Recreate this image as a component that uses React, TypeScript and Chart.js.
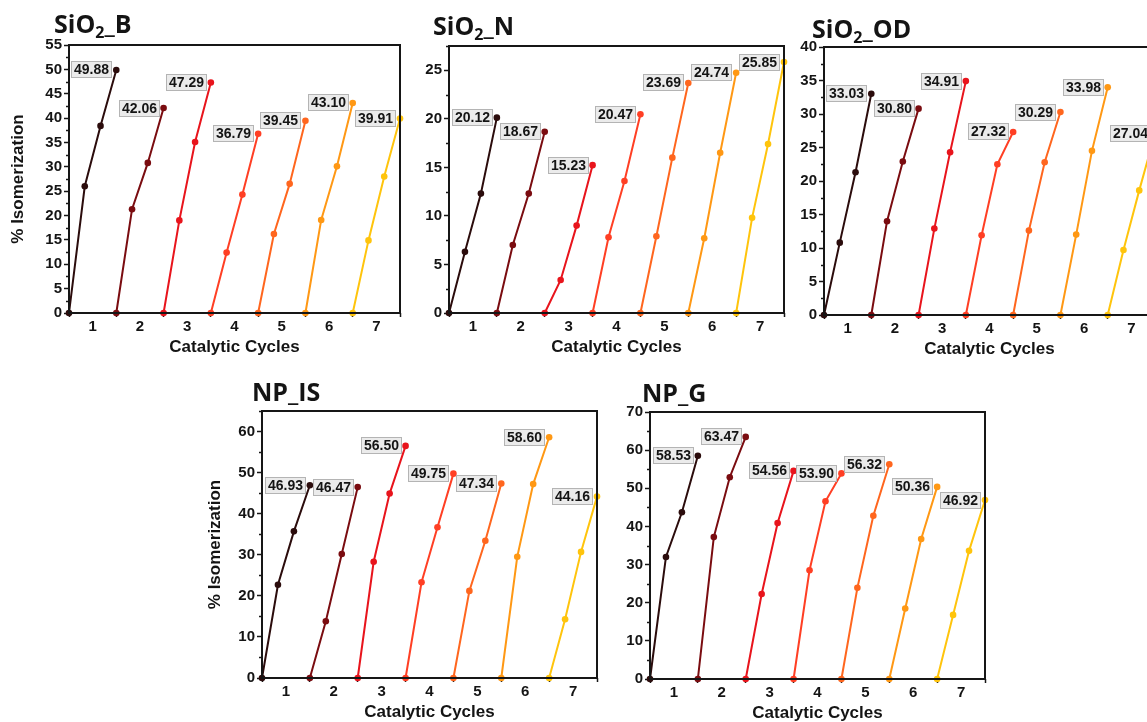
import React, { useEffect, useRef } from 'react';
import { Chart, registerables } from 'chart.js';

Chart.register(...registerables);

// ---------- data ----------
const cycleLabels = ['1', '2', '3', '4', '5', '6', '7'];
const cycleColors = ['#2b0c0c', '#7a0c10', '#e8141c', '#ff3f24', '#ff661e', '#ff9814', '#ffc40c'];
// sampling points inside each cycle (fraction of the cycle width)
const sampleFractions = [0, 1 / 3, 2 / 3, 1];

const sio2B = [
  [0, 26.0, 38.4, 49.88],
  [0, 21.3, 30.8, 42.06],
  [0, 19.0, 35.1, 47.29],
  [0, 12.4, 24.3, 36.79],
  [0, 16.2, 26.5, 39.45],
  [0, 19.1, 30.1, 43.1],
  [0, 14.9, 28.0, 39.91],
];
const sio2N = [
  [0, 6.3, 12.3, 20.12],
  [0, 7.0, 12.3, 18.67],
  [0, 3.4, 9.0, 15.23],
  [0, 7.8, 13.6, 20.47],
  [0, 7.9, 16.0, 23.69],
  [0, 7.7, 16.5, 24.74],
  [0, 9.8, 17.4, 25.85],
];
const sio2OD = [
  [0, 10.8, 21.3, 33.03],
  [0, 14.0, 22.9, 30.8],
  [0, 12.9, 24.3, 34.91],
  [0, 11.9, 22.5, 27.32],
  [0, 12.6, 22.8, 30.29],
  [0, 12.0, 24.5, 33.98],
  [0, 9.7, 18.6, 27.04],
];
const npIS = [
  [0, 22.7, 35.7, 46.93],
  [0, 13.8, 30.2, 46.47],
  [0, 28.3, 44.9, 56.5],
  [0, 23.3, 36.7, 49.75],
  [0, 21.2, 33.4, 47.34],
  [0, 29.5, 47.2, 58.6],
  [0, 14.3, 30.7, 44.16],
];
const npG = [
  [0, 32.0, 43.7, 58.53],
  [0, 37.2, 52.9, 63.47],
  [0, 22.3, 40.9, 54.56],
  [0, 28.5, 46.6, 53.9],
  [0, 23.9, 42.8, 56.32],
  [0, 18.5, 36.7, 50.36],
  [0, 16.8, 33.6, 46.92],
];

// ---------- layout ----------
const FONT = 'Arial, "Liberation Sans", sans-serif';
const Y_AXIS_W = 69;
const X_AXIS_H = 50;
const PAD_TOP = 20;
const PAD_RIGHT = 12;

type Panel = {
  key: string;
  title: [string, string, string];
  data: number[][];
  yMax: number;
  yMajor: number;
  yTitle: boolean;
  yTitlePad: number;
  area: { l: number; t: number; r: number; b: number };
  titlePos: { x: number; y: number };
};

const panels: Panel[] = [
  { key: 'b', title: ['SiO', '2', '_B'], data: sio2B, yMax: 55, yMajor: 5, yTitle: true, yTitlePad: 8,
    area: { l: 69, t: 45, r: 400, b: 313 }, titlePos: { x: 54, y: 11 } },
  { key: 'n', title: ['SiO', '2', '_N'], data: sio2N, yMax: 27.5, yMajor: 5, yTitle: false, yTitlePad: 0,
    area: { l: 449, t: 46, r: 784, b: 313 }, titlePos: { x: 433, y: 13 } },
  { key: 'od', title: ['SiO', '2', '_OD'], data: sio2OD, yMax: 40, yMajor: 5, yTitle: false, yTitlePad: 0,
    area: { l: 824, t: 47, r: 1155, b: 315 }, titlePos: { x: 812, y: 16 } },
  { key: 'is', title: ['NP_IS', '', ''], data: npIS, yMax: 65, yMajor: 10, yTitle: true, yTitlePad: 12,
    area: { l: 262, t: 411, r: 597, b: 678 }, titlePos: { x: 252, y: 379 } },
  { key: 'g', title: ['NP_G', '', ''], data: npG, yMax: 70, yMajor: 10, yTitle: false, yTitlePad: 0,
    area: { l: 650, t: 412, r: 985, b: 679 }, titlePos: { x: 642, y: 380 } },
];

const isMajor = (v: number, step: number) => Math.abs(v / step - Math.round(v / step)) < 1e-6;

const framePlugin = {
  id: 'frame',
  afterDraw(chart: any) {
    const { ctx, chartArea } = chart;
    const ys = chart.scales.y;
    const major = chart.options.plugins.frame.major;
    ctx.save();
    ctx.strokeStyle = '#161616';
    ctx.lineWidth = 1.5;
    ys.ticks.forEach((t: any) => {
      if (isMajor(t.value, major)) return;
      const py = Math.round(ys.getPixelForValue(t.value)) + 0.5;
      ctx.beginPath();
      ctx.moveTo(chartArea.left - 3, py);
      ctx.lineTo(chartArea.left, py);
      ctx.stroke();
    });
    ctx.lineWidth = 2;
    ctx.strokeRect(chartArea.left, chartArea.top, chartArea.right - chartArea.left, chartArea.bottom - chartArea.top);
    ctx.restore();
  },
};

const valueBoxPlugin = {
  id: 'valueBoxes',
  afterDatasetsDraw(chart: any) {
    const ctx = chart.ctx;
    ctx.save();
    ctx.font = `bold 14px ${FONT}`;
    chart.data.datasets.forEach((ds: any, i: number) => {
      const meta = chart.getDatasetMeta(i);
      const pt = meta.data[meta.data.length - 1];
      const v = ds.data[ds.data.length - 1].y;
      const text = v.toFixed(2);
      const w = Math.round(ctx.measureText(text).width) + 6;
      const h = 17;
      const x1 = Math.round(pt.x - 4 - w);
      const y1 = Math.round(pt.y - h / 2);
      ctx.fillStyle = '#ebebeb';
      ctx.fillRect(x1, y1, w, h);
      ctx.strokeStyle = '#b4b4b4';
      ctx.lineWidth = 1;
      ctx.strokeRect(x1 + 0.5, y1 + 0.5, w - 1, h - 1);
      ctx.fillStyle = '#141414';
      ctx.textAlign = 'left';
      ctx.textBaseline = 'middle';
      ctx.fillText(text, x1 + 3, y1 + h / 2 + 1);
    });
    ctx.restore();
  },
};

function PanelChart({ p }: { p: Panel }) {
  const ref = useRef<HTMLCanvasElement | null>(null);
  const left = p.area.l - Y_AXIS_W;
  const top = p.area.t - PAD_TOP;
  const width = p.area.r - left + PAD_RIGHT;
  const height = p.area.b - top + X_AXIS_H;

  useEffect(() => {
    if (!ref.current) return;
    const datasets = p.data.map((vals, ci) => ({
      label: `Cycle ${cycleLabels[ci]}`,
      data: vals.map((y, k) => ({ x: ci + 0.5 + sampleFractions[k], y })),
      borderColor: cycleColors[ci],
      backgroundColor: cycleColors[ci],
      pointBackgroundColor: cycleColors[ci],
      pointBorderColor: cycleColors[ci],
      borderWidth: 2,
      pointRadius: 3.3,
      pointBorderWidth: 0,
      tension: 0,
      clip: false as any,
    }));
    const minor = p.yMajor / 2;
    const chart = new Chart(ref.current, {
      type: 'line',
      data: { datasets },
      plugins: [framePlugin, valueBoxPlugin],
      options: {
        responsive: false,
        animation: false,
        devicePixelRatio: 1,
        layout: { padding: { top: PAD_TOP, right: PAD_RIGHT, left: 0, bottom: 0 } },
        plugins: {
          legend: { display: false },
          tooltip: { enabled: false },
          frame: { major: p.yMajor },
        } as any,
        scales: {
          x: {
            type: 'linear',
            min: 0.5,
            max: 7.5,
            afterFit: (s: any) => { s.height = X_AXIS_H; },
            border: { display: false },
            grid: {
              drawOnChartArea: false,
              drawTicks: true,
              tickLength: 4,
              tickWidth: 1.5,
              tickColor: (c: any) =>
                c.tick && !Number.isInteger(c.tick.value) ? '#161616' : 'rgba(0,0,0,0)',
            },
            ticks: {
              stepSize: 0.5,
              autoSkip: false,
              maxRotation: 0,
              padding: 1,
              color: '#141414',
              font: { family: FONT, size: 15, weight: 'bold' },
              callback: (v: any) => {
                const n = Number(v);
                return Number.isInteger(n) ? cycleLabels[n - 1] : '';
              },
            },
            title: {
              display: true,
              text: 'Catalytic Cycles',
              color: '#141414',
              font: { family: FONT, size: 17, weight: 'bold' },
              padding: { top: 0, bottom: 5 },
            },
          },
          y: {
            type: 'linear',
            min: 0,
            max: p.yMax,
            afterFit: (s: any) => { s.width = Y_AXIS_W; },
            border: { display: false },
            grid: {
              drawOnChartArea: false,
              drawTicks: true,
              tickLength: 5,
              tickWidth: 1.5,
              tickColor: (c: any) =>
                c.tick && isMajor(c.tick.value, p.yMajor) ? '#161616' : 'rgba(0,0,0,0)',
            },
            ticks: {
              stepSize: minor,
              autoSkip: false,
              padding: 2,
              color: '#141414',
              font: { family: FONT, size: 15, weight: 'bold' },
              callback: (v: any) => (isMajor(Number(v), p.yMajor) ? String(v) : ''),
            },
            title: {
              display: p.yTitle,
              text: '% Isomerization',
              color: '#141414',
              font: { family: FONT, size: 17, weight: 'bold' },
              padding: { top: p.yTitlePad, bottom: 0 },
            },
          },
        },
      } as any,
    });
    return () => chart.destroy();
  }, [p]);

  return (
    <canvas
      ref={ref}
      width={width}
      height={height}
      style={{ position: 'absolute', left, top, width, height }}
    />
  );
}

function PanelTitle({ p }: { p: Panel }) {
  return (
    <div
      style={{
        position: 'absolute',
        left: p.titlePos.x,
        top: p.titlePos.y,
        fontFamily: '"Open Sans", "Noto Sans", sans-serif',
        fontWeight: 700,
        fontSize: 25,
        lineHeight: '24px',
        color: '#141414',
        whiteSpace: 'nowrap',
      }}
    >
      {p.title[0]}
      {p.title[1] ? (
        <span style={{ fontSize: 16, position: 'relative', top: 5 }}>{p.title[1]}</span>
      ) : null}
      {p.title[2]}
    </div>
  );
}

export default function App() {
  return (
    <div
      style={{
        position: 'fixed',
        left: 0,
        top: 0,
        width: 1147,
        height: 722,
        overflow: 'hidden',
        background: '#ffffff',
      }}
    >
      {panels.map((p) => (
        <PanelChart key={p.key} p={p} />
      ))}
      {panels.map((p) => (
        <PanelTitle key={'t' + p.key} p={p} />
      ))}
    </div>
  );
}
